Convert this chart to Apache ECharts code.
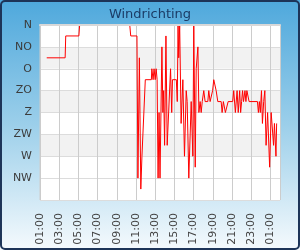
<!DOCTYPE html>
<html>
<head>
<meta charset="utf-8">
<script src="https://cdn.jsdelivr.net/npm/echarts@6/dist/echarts.min.js"></script>
<style>
html,body{margin:0;padding:0;background:#fff;}
#c{width:300px;height:250px;}
</style>
</head>
<body>
<div id="c"></div>
<script>
// hours after 01:00 (day 1)
const times = [0.70,2.62,2.68,4.05,4.13,9.35,9.45,10.1,10.2,10.35,10.5,10.62,10.97,11.6,11.65,11.78,11.88,12.0,12.1,12.2,12.3,12.4,12.5,12.7,12.8,12.88,12.98,13.12,13.25,13.6,13.72,13.8,14.2,14.3,14.38,14.45,14.55,14.7,14.88,15.05,15.23,15.33,15.5,15.75,15.92,16.02,16.17,16.27,16.38,16.45,16.55,16.68,16.79,16.9,17.06,17.2,17.48,17.58,17.72,17.9,17.98,18.1,18.24,18.35,18.52,18.87,18.97,19.1,19.31,19.45,19.6,20.07,20.18,20.35,20.53,20.65,20.8,20.9,21.0,21.1,21.2,21.35,21.45,21.55,21.68,21.78,22.65,22.75,22.85,22.95,23.07,23.17,23.3,23.42,23.55,23.71,23.92,24.08,24.33,24.42,24.58,24.65];
// wind direction in degrees
const directions = [67.5,67.5,22.5,22.5,0,0,22.5,22.5,315,67.5,337.5,270,112.5,112.5,90,112.5,90,112.5,90,112.5,315,180,315,45,180,135,247.5,22.5,247.5,90,180,112.5,112.5,157.5,0,67.5,0,202.5,112.5,270,135,157.5,315,157.5,270,0,292.5,90,90,45,180,157.5,180,157.5,135,157.5,157.5,135,157.5,157.5,135,112.5,112.5,135,157.5,157.5,180,157.5,180,180,157.5,157.5,135,180,135,180,135,180,157.5,135,157.5,135,157.5,135,135,157.5,157.5,180,157.5,180,135,202.5,157.5,135,247.5,180,292.5,180,247.5,202.5,270,202.5];
const dirLabels = ['N','NO','O','ZO','Z','ZW','W','NW',''];
const startHour = 1;

const chart = echarts.init(document.getElementById('c'), null, {renderer:'canvas'});
const font = 'DejaVu Sans';
const data = times.map((t,i)=>[t, directions[i]]);
chart.setOption({
  animation:false,
  backgroundColor:{type:'linear',x:0,y:0,x2:0,y2:1,colorStops:[
    {offset:0,color:'#4ea8dc'},{offset:0.5,color:'#9ccfea'},{offset:1,color:'#f5fafd'}]},
  textStyle:{fontFamily:font},
  title:{text:'Windrichting',left:'center',top:3,textStyle:{fontSize:13,fontWeight:'normal',color:'#1b3c66',fontFamily:font}},
  graphic:[{type:'rect',shape:{x:1,y:1,width:298,height:248,r:4},style:{fill:null,stroke:'#1d3458',lineWidth:2},z:100}],
  grid:{left:40,right:20,top:25,bottom:50,show:true,backgroundColor:'#fff',borderColor:'#ccc',borderWidth:1},
  xAxis:[{
    type:'value',min:0,max:25,interval:2,
    axisLine:{show:true,lineStyle:{color:'#ccc'}},
    axisTick:{show:false},
    splitLine:{show:true,lineStyle:{color:'#cccccc'}},
    axisLabel:{rotate:90,margin:13,fontSize:11,color:'#444',fontFamily:font,
      formatter:v=>{ if(v%2!==0) return ''; const h=(startHour+v)%24; return (h<10?'0':'')+h+':00'; }}
  },{
    type:'value',min:0,max:25,position:'top',z:5,
    axisLine:{show:true,lineStyle:{color:'#d8d8d8',width:2}},
    axisTick:{show:false},axisLabel:{show:false},splitLine:{show:false}
  }],
  yAxis:{
    type:'value',inverse:true,min:0,max:360,interval:45,
    axisLine:{show:false},axisTick:{show:false},
    splitLine:{show:true,lineStyle:{color:'#dcdcdc'}},
    splitArea:{show:true,areaStyle:{color:['#ffffff','#f2f2f2','#ffffff','#f2f2f2','#ffffff','#f2f2f2','#ffffff','#ffffff']}},
    axisLabel:{fontSize:11,color:'#3c3c3c',margin:8,fontFamily:font,formatter:v=>dirLabels[Math.round(v/45)]||''}
  },
  series:[{type:'line',data:data,showSymbol:false,symbol:'none',lineStyle:{color:'#ff0000',width:1},z:2}]
});
</script>
</body>
</html>
